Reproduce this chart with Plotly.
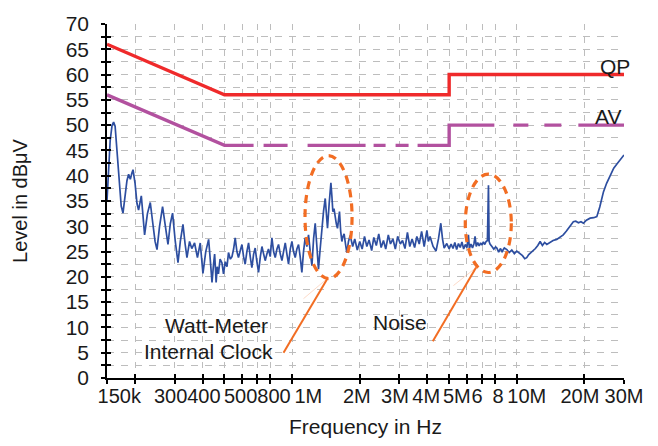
import numpy as np
import plotly.graph_objects as go

# ---------------- data (frequencies in MHz, levels in dBuV) ----------------
qp_freq = [0.15, 0.5, 5.0, 5.0, 30.0]
qp_level = [66, 56, 56, 60, 60]
av_freq = [0.15, 0.5, 5.0, 5.0, 30.0]
av_level = [56, 46, 46, 50, 50]

spec_freq = [
    0.150, 0.1525, 0.155, 0.158, 0.1605, 0.163, 0.166, 0.170, 0.1735, 0.1767,
    0.180, 0.184, 0.1872, 0.1905, 0.1935, 0.1958, 0.200, 0.204, 0.2073, 0.2105,
    0.2132, 0.217, 0.2205, 0.227, 0.2337, 0.240, 0.2455, 0.2504, 0.257, 0.2651,
    0.272, 0.2802, 0.287, 0.2937, 0.302, 0.3105, 0.318, 0.3267, 0.334, 0.3404,
    0.3495, 0.3577, 0.368, 0.379, 0.390, 0.401, 0.4127, 0.425, 0.432, 0.437,
    0.440, 0.447, 0.452, 0.456, 0.459, 0.464, 0.470,
    0.478, 0.487, 0.495, 0.504, 0.513, 0.521, 0.531, 0.540, 0.549, 0.558,
    0.568, 0.577, 0.588, 0.598, 0.608, 0.618, 0.629, 0.640, 0.651, 0.662,
    0.674, 0.685, 0.697, 0.709, 0.722, 0.734, 0.747, 0.759, 0.772, 0.785,
    0.799, 0.813, 0.827, 0.841, 0.856, 0.870, 0.886, 0.901, 0.916, 0.932,
    0.948, 0.964, 0.981, 0.998, 1.015, 1.032, 1.050, 1.068, 1.086, 1.105,
    1.124, 1.143, 1.163, 1.183, 1.204, 1.225, 1.246, 1.267, 1.289, 1.310,
    1.333, 1.357, 1.380, 1.404, 1.421, 1.437, 1.462, 1.488, 1.503, 1.518,
    1.536, 1.554, 1.573, 1.592, 1.608, 1.625, 1.645, 1.665, 1.684, 1.704,
    1.728, 1.752, 1.782, 1.813,
    1.86, 1.90, 1.95, 2.00, 2.05, 2.10, 2.15, 2.20, 2.26, 2.31,
    2.37, 2.43, 2.49, 2.55, 2.61, 2.68, 2.74, 2.81, 2.88, 2.95,
    3.03, 3.10, 3.18, 3.26, 3.34, 3.42, 3.51, 3.59, 3.68, 3.77,
    3.87, 3.98, 4.04, 4.11, 4.24, 4.37, 4.48, 4.59, 4.67, 4.75, 4.88,
    5.00, 5.10, 5.20, 5.30, 5.40, 5.50, 5.60, 5.70, 5.80, 5.90,
    6.00, 6.09, 6.15, 6.25, 6.35, 6.45, 6.52, 6.60, 6.70, 6.80,
    6.90, 7.00, 7.10, 7.20, 7.30, 7.40, 7.48, 7.53, 7.60, 7.75,
    7.90, 8.05, 8.15, 8.30, 8.45, 8.60, 8.80, 9.03, 9.25, 9.50,
    9.75, 10.0, 10.3, 10.6, 10.85, 11.07, 11.3, 11.6, 11.85, 12.1,
    12.4, 12.7, 13.0, 13.3, 13.6, 14.0, 14.5, 15.06, 15.5, 16.1,
    16.6, 17.2, 17.85, 18.3, 18.8, 19.3, 19.8, 20.4, 21.2, 22.0,
    22.7, 23.4, 24.3, 25.1, 26.0, 27.0, 27.9, 28.9, 29.8, 30.0,
]
spec_level = [
    35.1, 42.0, 47.0, 50.0, 50.6, 49.8, 45.5, 38.5, 34.0, 32.6,
    35.5, 39.0, 40.3, 39.3, 40.5, 41.2, 38.5, 34.5, 33.2, 35.0,
    36.0, 32.0, 28.3, 32.5, 34.7, 30.5, 27.0, 25.4, 30.0, 33.9,
    30.0, 26.4, 30.5, 32.6, 27.0, 22.8, 27.0, 30.4, 26.5, 23.8,
    27.0, 25.6, 26.7, 23.8, 26.7, 20.7, 25.0, 27.4, 23.5, 21.2,
    18.9, 22.5, 24.5, 21.5, 18.9, 22.0, 20.6,
    23.5, 22.8, 20.6, 23.0, 22.0, 24.8, 23.5, 24.0, 25.5, 27.7,
    25.0, 23.8, 25.2, 26.4, 24.0, 22.5, 25.0, 26.7, 24.0, 21.8,
    24.5, 25.7, 23.0, 20.9, 24.0, 26.0, 24.5, 23.2, 24.5, 25.5,
    24.0, 27.7, 25.0, 23.8, 25.5, 26.4, 24.5, 23.2, 25.0, 26.7,
    24.5, 22.5, 25.5, 27.0, 25.0, 23.8, 25.5, 26.4, 24.0, 20.9,
    25.0, 27.7, 26.0, 28.3, 25.0, 22.2, 27.5, 30.6, 26.0, 21.5,
    25.5, 29.6, 33.0, 35.5, 32.0, 29.6, 34.5, 38.6, 36.0, 32.9,
    33.5, 31.6, 30.5, 29.6, 31.5, 32.9, 29.0, 27.0, 28.0, 28.5,
    26.5, 24.8, 27.0, 28.2,
    26.0, 27.5, 25.3, 27.0, 25.5, 28.0, 26.0, 27.3, 25.2, 27.8,
    26.2, 28.5, 25.8, 27.2, 25.5, 28.3, 26.5, 27.5, 25.5, 28.0,
    26.5, 27.2, 25.6, 28.8, 26.0, 27.5, 25.8, 28.0, 26.5, 29.0,
    26.0, 29.2, 27.0, 28.0, 26.0, 25.1, 27.5, 30.6, 27.5, 25.7, 26.6,
    25.5, 26.5, 25.6, 26.8, 25.4, 26.6, 25.8, 26.9, 25.5, 26.4,
    25.8, 28.3, 25.6, 26.5, 25.7, 26.6, 28.0, 26.0, 26.8, 26.1,
    26.7, 26.3, 26.9, 26.4, 27.0, 27.2, 38.1, 27.0, 26.5, 26.0,
    25.5, 25.9, 25.7, 24.9, 25.6, 25.0, 25.7, 25.4, 24.8, 25.3,
    24.6, 25.1, 24.6, 24.2, 23.6, 23.8, 24.4, 24.8, 25.1, 25.6,
    26.2, 27.0, 26.2, 26.8, 26.4, 26.8, 27.2, 27.4, 27.8, 28.3,
    29.0, 30.0, 30.9, 31.0, 30.7, 30.9, 30.6, 31.2, 31.6, 31.7,
    31.9, 33.8, 36.8, 38.5, 40.0, 41.5, 42.3, 43.3, 44.0, 44.1,
]

grid_freq = [0.15, 0.2, 0.3, 0.4, 0.5, 0.6, 0.7, 0.8, 1, 2, 3, 4, 5, 6, 7, 8, 10, 20, 30]
label_freq = [0.170, 0.288, 0.405, 0.590, 0.830, 1.180, 1.94, 2.87, 3.95, 5.41,
              6.66, 8.26, 11.07, 19.1, 30.0]
label_text = ["150k", "300", "400", "500", "800", "1M", "2M", "3M", "4M", "5M",
              "6", "8", "10M", "20M", "30M"]
y_vals = [0, 2.5, 5, 7.5, 10, 12.5, 15, 17.5, 20, 22.5, 25, 27.5, 30, 32.5, 35,
          37.5, 40, 42.5, 45, 47.5, 50, 52.5, 55, 57.5, 60, 62.5, 65, 67.5, 70]
y_text = ["0", "", "5", "", "10", "", "15", "", "20", "", "25", "", "30", "", "35",
          "", "40", "", "45", "", "50", "", "55", "", "60", "", "65", "", "70"]

MHZ = 1e6
FONT = "Liberation Sans, Arial, Helvetica, sans-serif"
TXT = "#1a1a1a"
RED = "#ef2a2b"
PURPLE = "#b2519f"
BLUE = "#2d4ea0"
ORANGE = "#f26d23"
GRID = "#bdbdbd"

hz = lambda arr: [v * MHZ for v in arr]
xr = [np.log10(0.15 * MHZ), np.log10(30 * MHZ)]

fig = go.Figure()
fig.add_trace(go.Scatter(x=hz(spec_freq), y=spec_level, mode="lines",
                         line=dict(color=BLUE, width=1.7), showlegend=False))
fig.add_trace(go.Scatter(x=hz(qp_freq), y=qp_level, mode="lines",
                         line=dict(color=RED, width=3.4), showlegend=False))
fig.add_trace(go.Scatter(x=hz(av_freq), y=av_level, mode="lines",
                         line=dict(color=PURPLE, width=3.4,
                                   dash="157px,10px,24px,20px,58px,8px,12px,10px,13px,9px,97px,19px,15px,16px,17px,17px,60px"),
                         showlegend=False))
# helper traces so the overlay axes (labels / crossing ticks) are drawn
fig.add_trace(go.Scatter(x=[None], y=[None], xaxis="x2", yaxis="y", showlegend=False))
fig.add_trace(go.Scatter(x=[None], y=[None], xaxis="x3", yaxis="y2", showlegend=False))

axis_font = dict(family=FONT, size=20, color=TXT)
big_font = dict(family=FONT, size=21, color=TXT)
fig.update_layout(
    width=658, height=446,
    margin=dict(l=107, r=34, t=19, b=67),
    paper_bgcolor="white", plot_bgcolor="white",
    font=axis_font,
    xaxis=dict(type="log", range=xr, tickvals=hz(grid_freq), showticklabels=False,
               ticks="outside", ticklen=4, tickwidth=1.5, tickcolor="black",
               showgrid=True, gridcolor=GRID, gridwidth=1.3, griddash="6px,7px",
               showline=True, linecolor="black", linewidth=1.5, zeroline=False,
               title=dict(text="Frequency in Hz", font=big_font, standoff=37)),
    xaxis2=dict(type="log", range=xr, overlaying="x", anchor="y", side="bottom",
                tickvals=hz(label_freq), ticktext=label_text, ticks="", tickangle=0,
                showgrid=False, showline=False, zeroline=False,
                ticklabelstandoff=4, tickfont=axis_font),
    xaxis3=dict(type="log", range=xr, overlaying="x", anchor="y2", side="bottom",
                tickvals=hz(grid_freq), showticklabels=False, ticks="inside",
                ticklen=4, tickwidth=1.5, tickcolor="black",
                showgrid=False, showline=False, zeroline=False),
    yaxis=dict(range=[0, 70], tickvals=y_vals, ticktext=y_text,
               ticks="outside", ticklen=4, tickwidth=1.5, tickcolor="black",
               showgrid=True, gridcolor=GRID, gridwidth=1.3, griddash="7px,7px",
               showline=True, linecolor="black", linewidth=1.5, zeroline=False,
               ticklabelstandoff=8, tickfont=big_font,
               title=dict(text="Level in dBμV", font=axis_font, standoff=33)),
    yaxis2=dict(range=[0, 70], overlaying="y", anchor="x3", tickvals=y_vals,
                showticklabels=False, ticks="inside", ticklen=4, tickwidth=1.5,
                tickcolor="black", showgrid=False, showline=False, zeroline=False),
)

# ellipses and leader lines (annotation decorations, in plot-domain coordinates)
ell = dict(type="circle", xref="x domain", yref="y domain",
           line=dict(color=ORANGE, width=3.2, dash="8px,6px"))
fig.add_shape(**ell, x0=0.383, x1=0.474, y0=0.281, y1=0.628)
fig.add_shape(**ell, x0=0.693, x1=0.782, y0=0.298, y1=0.576)
for (a, b, c, d) in [(0.3414, 0.0714, 0.4268, 0.2819), (0.6302, 0.1036, 0.7139, 0.3119)]:
    fig.add_shape(type="line", xref="x domain", yref="y domain", x0=a, y0=b, x1=c, y1=d,
                  line=dict(color=ORANGE, width=2))
for (a, b, c, d) in [(0.380, 0.224, 0.4268, 0.2819), (0.670, 0.261, 0.7139, 0.3119)]:
    fig.add_shape(type="line", xref="x domain", yref="y domain", x0=a, y0=b, x1=c, y1=d,
                  line=dict(color="rgba(242,109,35,0.25)", width=1))

ann = dict(showarrow=False, font=big_font)
fig.add_annotation(**ann, text="QP", x=np.log10(30 * MHZ), y=60, xanchor="right",
                   yanchor="bottom", xshift=8, yshift=-5)
fig.add_annotation(**ann, text="AV", x=np.log10(30 * MHZ), y=50, xanchor="right",
                   yanchor="bottom", xshift=-1, yshift=-5)
fig.add_annotation(**ann, text="Watt-Meter", x=np.log10(0.463 * MHZ), y=10.3)
fig.add_annotation(**ann, text="Internal Clock", x=np.log10(0.425 * MHZ), y=5.2)
fig.add_annotation(**ann, text="Noise", x=np.log10(3.03 * MHZ), y=10.9)

fig.write_html("out.html")
